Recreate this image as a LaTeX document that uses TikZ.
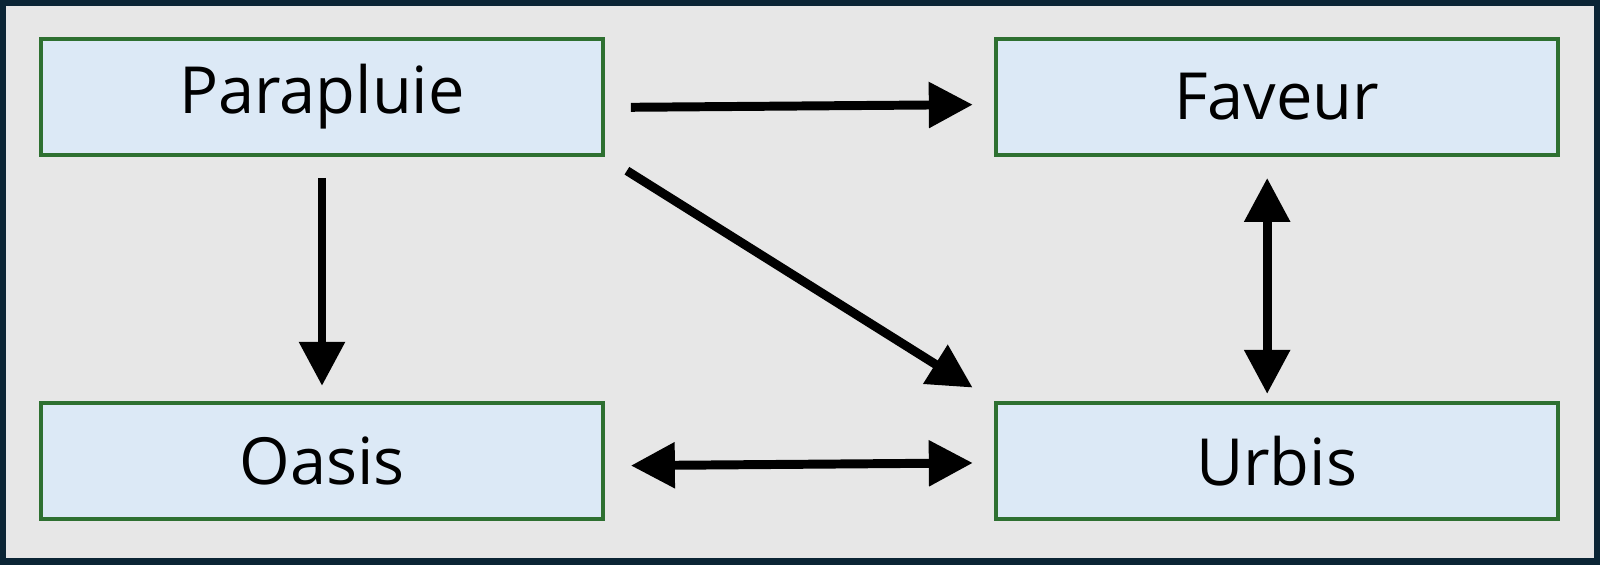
\documentclass[tikz,border=0pt]{standalone}
\usepackage{fontspec}
\setmainfont{Open Sans}
\usetikzlibrary{arrows.meta,positioning}
\definecolor{rahmen}{HTML}{0B2535}
\definecolor{grund}{HTML}{E7E7E7}
\definecolor{kasten}{HTML}{DCE9F6}
\definecolor{kante}{HTML}{2E7031}
\tikzset{
	%Define standard arrow tip
	>={Triangle[length=0.88cm,width=0.88cm]},
	%Define style for boxes
	punkt/.style={
		rectangle,
		draw=kante, line width=2.2pt,
		fill=kasten,
		minimum width=11.24cm,
		minimum height=2.32cm,
		inner sep=0pt,
		font=\fontsize{37}{42}\selectfont},
	% Define arrow style
	pil/.style={
		->,
		line width=5.1pt,
		shorten <=0.52cm,
		shorten >=0.42cm,}
}

\begin{document}
\begin{tikzpicture}[x=0.02cm, y=-0.02cm, node distance=1cm]
	
	% frame and background
	\fill[rahmen] (0,0) rectangle (1600,565);
	\fill[grund] (6,6) rectangle (1594,558);
	\useasboundingbox (0,0) rectangle (1600,565);
	
	\node[punkt] (para) at (322,97) {Parapluie};
	\node[punkt, right = 7.78cm of para] (fav) {Faveur};
	\node[punkt, below = 4.88cm of para] (oas) {Oasis};
	\node[punkt, right = 7.78cm of oas] (urb) {Urbis};
	
	\draw[pil] ([yshift=-0.21cm]para.east) -- ([yshift=-0.15cm]fav.west);
	\draw[pil, shorten >=0.5cm] (para.south east) -- (urb.north west);
	\draw[pil, shorten <=0.42cm, shorten >=0.3cm] (para.south) -- (oas.north);
	\draw[pil, <->] ([yshift=-0.1cm]oas.east) -- ([yshift=-0.04cm]urb.west);
	\draw[pil, <->, shorten <=0.42cm, shorten >=0.14cm] ([xshift=-0.19cm]fav.south) -- ([xshift=-0.19cm]urb.north);
	
\end{tikzpicture}
\end{document}
